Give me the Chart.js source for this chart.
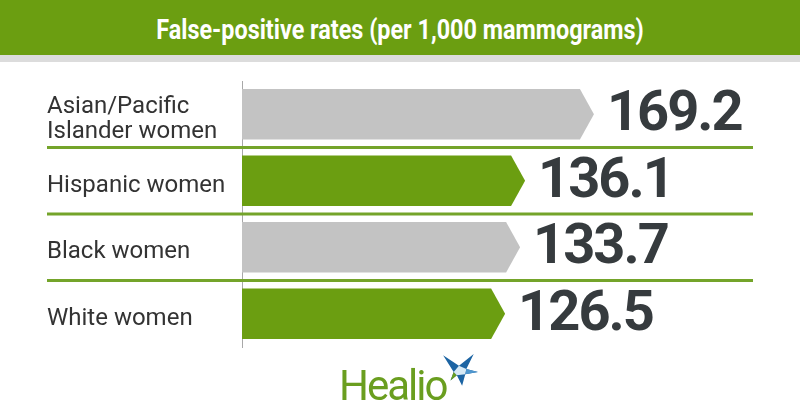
<!DOCTYPE html>
<html>
<head>
<meta charset="utf-8">
<title>False-positive rates</title>
<script src="https://cdn.jsdelivr.net/npm/chart.js@4"></script>
<style>
    html, body { margin: 0; padding: 0; background: #ffffff; }
    #wrap { position: relative; width: 800px; height: 420px; overflow: hidden; }
    #banner {
        position: absolute; left: 0; top: 0; width: 800px; height: 55px;
        background: #6b9e11; border-bottom: 7px solid #dcdcdc;
    }
    #banner span {
        position: absolute; left: 400px; top: 13px;
        font: 700 28px Roboto, sans-serif; color: #ffffff; white-space: nowrap;
        transform: translateX(-50%) scaleX(0.835); transform-origin: center;
    }
    #chartBox { position: absolute; left: 0; top: 62px; width: 800px; height: 358px; }
    #logo { position: absolute; left: 339px; top: 361px; width: 140px; height: 50px; }
    #logo span {
        font: 400 42px Roboto, sans-serif; color: #6a9e1f; letter-spacing: -2px;
        line-height: 50px;
    }
    #logo svg { position: absolute; left: 102px; top: -7px; }
</style>
</head>
<body>
<div id="wrap">
    <div id="chartBox"><canvas id="rates"></canvas></div>
    <div id="banner"><span>False-positive rates (per 1,000 mammograms)</span></div>
    <div id="logo">
        <span>Healio</span>
        <svg width="38" height="34" viewBox="0 0 36 32">
            <polygon points="2,1 17,11 31,0 24,14 35,17 23,19 20,30 15,20 9,25 12,17" fill="#1c64a3"/>
            <polygon points="15,20 9,25 12,17" fill="#6a9e1f"/>
            <polygon points="17,11 24,14 23,19 15,20 12,17" fill="#d6e9f5"/>
            <polygon points="24,14 35,17 23,19" fill="#4f97cf"/>
        </svg>
    </div>
</div>
<script>
"use strict";
(function() {
    const categories = [["Asian/Pacific", "Islander women"], "Hispanic women", "Black women", "White women"];
    const rates = [169.2, 136.1, 133.7, 126.5];
    const barColors = ["#c3c3c3", "#6b9e11", "#c3c3c3", "#6b9e11"];

    // bars are drawn as arrows pointing right, from the bar elements
    const arrowBars = {
        id: "arrowBars",
        beforeDatasetDraw(chart, args) {
            let ctx = chart.ctx;
            args.meta.data.forEach(function(bar) {
                let half = bar.height / 2;
                let tip = 14;
                ctx.save();
                ctx.fillStyle = bar.options.backgroundColor;
                ctx.beginPath();
                ctx.moveTo(bar.base, bar.y - half);
                ctx.lineTo(bar.x - tip, bar.y - half);
                ctx.lineTo(bar.x, bar.y);
                ctx.lineTo(bar.x - tip, bar.y + half);
                ctx.lineTo(bar.base, bar.y + half);
                ctx.closePath();
                ctx.fill();
                ctx.restore();
            });
            return false;
        },
        afterDatasetsDraw(chart) {
            let ctx = chart.ctx;
            let meta = chart.getDatasetMeta(0);
            ctx.save();
            ctx.font = "700 56px Roboto";
            ctx.letterSpacing = "-2px";
            ctx.fillStyle = "#363b3e";
            ctx.textAlign = "left";
            ctx.textBaseline = "middle";
            meta.data.forEach(function(bar, i) {
                ctx.fillText(rates[i].toFixed(1), bar.x + 13, bar.y + 2);
            });
            ctx.restore();
        },
    };

    // green separators between the rows
    const rowLines = {
        id: "rowLines",
        beforeDatasetsDraw(chart) {
            let ctx = chart.ctx;
            let yScale = chart.scales.y;
            ctx.save();
            ctx.strokeStyle = "#74a42a";
            ctx.lineWidth = 3;
            for (let i = 1; i < categories.length; i++) {
                let y = (yScale.getPixelForValue(i - 1) + yScale.getPixelForValue(i)) / 2;
                ctx.beginPath();
                ctx.moveTo(47, y);
                ctx.lineTo(753, y);
                ctx.stroke();
            }
            ctx.restore();
        },
    };

    function Start() {
        let option = document.getElementById("rates").getContext("2d");
        new Chart(option, {
            type: "bar",
            data: {
                labels: categories,
                datasets: [{
                    label: "False-positive rate",
                    data: rates,
                    backgroundColor: barColors,
                    barPercentage: 0.76,
                    categoryPercentage: 1,
                }],
            },
            options: {
                indexAxis: "y",
                responsive: true,
                maintainAspectRatio: false,
                animation: false,
                layout: { padding: { top: 19, bottom: 73, left: 47, right: 38 } },
                plugins: {
                    legend: { display: false },
                    tooltip: { enabled: false },
                },
                scales: {
                    x: { display: false, min: 0, max: 250 },
                    y: {
                        grid: { display: false },
                        border: { display: true, color: "#a8a8a8", width: 1 },
                        ticks: {
                            crossAlign: "far",
                            color: "#333333",
                            font: { family: "Roboto", size: 24, lineHeight: 1.05 },
                            padding: 0,
                            labelOffset: 5,
                        },
                        afterFit(scale) { scale.width = 195; },
                    },
                },
            },
            plugins: [rowLines, arrowBars],
        });
    }

    window.addEventListener("load", Start);
})();
</script>
</body>
</html>
